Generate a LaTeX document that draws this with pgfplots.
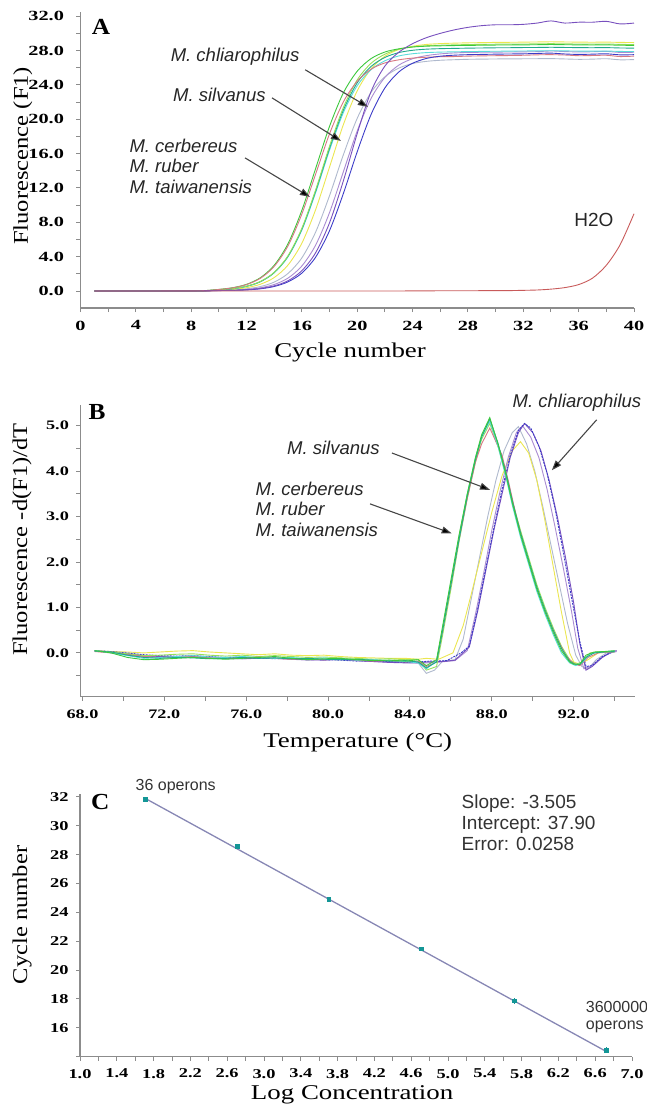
\documentclass[border=0pt]{standalone}
\usepackage{fontspec}
\setmainfont{Liberation Serif}
\newfontfamily\tickA[FakeStretch=1.45]{Liberation Serif}
\newfontfamily\tickB[FakeStretch=1.40]{Liberation Serif}
\newfontfamily\tickC[FakeStretch=1.36]{Liberation Serif}
\newfontfamily\labx[FakeStretch=1.28]{Liberation Serif}
\newfontfamily\laby[FakeStretch=1.17]{Liberation Serif}
\newfontfamily\panelf[FakeStretch=1.1]{Liberation Serif}
\newfontfamily\annot{Liberation Sans}
\usepackage{pgfplots}
\pgfplotsset{compat=1.18}
\usepackage{pgfplotstable}
\usetikzlibrary{arrows.meta}

\definecolor{axgray}{RGB}{140,140,140}
\definecolor{cpink}{RGB}{215,120,130}
\definecolor{cgreen}{RGB}{60,200,60}
\definecolor{clgreen}{RGB}{150,225,90}
\definecolor{cteal}{RGB}{30,170,140}
\definecolor{ccyan}{RGB}{90,220,220}
\definecolor{cyellow}{RGB}{235,230,80}
\definecolor{cgray}{RGB}{175,185,205}
\definecolor{clav}{RGB}{170,140,210}
\definecolor{cblue}{RGB}{60,60,200}
\definecolor{cpurple}{RGB}{120,80,190}
\definecolor{ch2o}{RGB}{200,90,90}
\definecolor{arrowc}{RGB}{70,70,70}
\definecolor{ptcol}{RGB}{20,150,150}
\definecolor{fitcol}{RGB}{135,135,180}

% amplification curves, panel A
\pgfplotstableread{
c  pink  green lgreen teal  cyan  yellow gray  lav   blue  purple h2o
1  0.00  0.00  0.00   0.00  0.00  0.00   0.00  0.00  0.00  0.00   0.00
2  0.00  0.00  0.00   0.00  0.00  0.00   0.00  0.00  0.00  0.00   0.00
3  0.00  0.00  0.00   0.00  0.00  0.00   0.00  0.00  0.00  0.00   0.00
4  0.00  0.00  0.00   0.00  0.00  0.00   0.00  0.00  0.00  0.00   0.00
5  0.00  0.00  0.00   0.00  0.00  0.00   0.00  0.00  0.00  0.00   0.00
6  0.01  0.01  0.00   0.00  0.00  0.00   0.00  0.00  0.00  0.00   0.00
7  0.01  0.01  0.01   0.01  0.01  0.00   0.00  0.00  0.00  0.00   0.00
8  0.02  0.02  0.01   0.01  0.01  0.01   0.01  0.01  0.00  0.00   0.00
9  0.05  0.05  0.03   0.03  0.04  0.02   0.02  0.02  0.01  0.01   0.00
10 0.18  0.19  0.14   0.13  0.13  0.10   0.07  0.08  0.05  0.06   0.00
11 0.37  0.39  0.28   0.27  0.27  0.19   0.13  0.10  0.08  0.08   0.00
12 0.75  0.78  0.56   0.55  0.54  0.39   0.26  0.19  0.13  0.15   0.00
13 1.48  1.55  1.11   1.09  1.08  0.79   0.52  0.38  0.26  0.30   0.00
14 2.87  3.00  2.18   2.15  2.12  1.57   1.04  0.76  0.53  0.60   0.00
15 5.27  5.52  4.12   4.06  4.00  3.03   2.05  1.51  1.07  1.20   0.00
16 8.98  9.41  7.32   7.22  7.11  5.58   3.87  2.92  2.09  2.37   0.00
17 13.65 14.30 11.82  11.66 11.49 9.51   6.89  5.37  3.96  4.48   0.00
18 18.32 19.19 16.88  16.64 16.41 14.45  11.12 9.15  7.04  7.96   0.00
19 22.03 23.08 21.38  21.08 20.79 19.39  15.88 13.90 11.37 12.85  0.00
20 24.43 25.60 24.59  24.25 23.91 23.32  20.12 18.65 16.23 18.35  0.00
21 25.83 27.06 26.52  26.15 25.78 25.87  23.14 22.43 20.56 23.24  0.00
22 26.56 27.83 27.58  27.20 26.81 27.34  24.95 24.88 23.65 26.20  0.00
23 26.92 28.20 28.15  27.76 27.37 28.12  25.95 26.30 25.50 27.80  0.00
24 27.12 28.41 28.43  28.03 27.63 28.50  26.49 27.05 26.52 28.80  0.02
25 27.22 28.51 28.56  28.16 27.76 28.71  26.74 27.41 27.08 29.50  0.02
26 27.28 28.55 28.62  28.22 27.82 28.81  26.87 27.61 27.34 30.00  0.03
27 27.30 28.58 28.66  28.25 27.85 28.86  26.93 27.72 27.46 30.40  0.03
28 27.35 28.60 28.70  28.28 27.88 28.90  26.98 27.78 27.52 30.70  0.03
29 27.38 28.62 28.72  28.30 27.90 28.92  27.00 27.80 27.55 30.90  0.04
30 27.40 28.64 28.74  28.32 27.92 28.95  27.02 27.82 27.58 31.00  0.04
31 27.42 28.65 28.75  28.33 27.93 28.96  27.03 27.83 27.60 31.00  0.05
32 27.45 28.66 28.76  28.35 27.95 28.98  27.04 27.85 27.62 31.05  0.08
33 27.50 28.68 28.78  28.36 27.96 29.00  27.05 27.87 27.66 31.20  0.12
34 27.52 28.70 28.80  28.38 27.98 29.02  27.06 27.95 27.70 31.45  0.22
35 27.48 28.68 28.78  28.36 27.96 29.00  27.02 27.88 27.60 31.20  0.40
36 27.40 28.66 28.76  28.34 27.94 28.98  26.98 27.84 27.55 31.30  0.75
37 27.42 28.65 28.75  28.33 27.93 28.97  27.00 27.86 27.58 31.30  1.50
38 27.45 28.66 28.76  28.34 27.94 28.98  27.05 27.90 27.62 31.40  3.00
39 27.30 28.62 28.72  28.30 27.90 28.95  26.92 27.78 27.50 31.10  5.40
40 27.35 28.60 28.70  28.28 27.88 28.93  26.95 27.80 27.52 31.20  9.00
}\qpcr

\pgfplotsset{
  panel/.style={
    scale only axis, clip=false,
    axis lines=left,
    axis line style={-, draw=axgray, line width=1.6pt},
    tick align=outside,
    major tick length=4pt, minor tick length=4pt,
    every tick/.style={axgray, line width=1pt},
    /pgf/number format/assume math mode=true,
    xlabel style={anchor=center, font=\labx\fontsize{21}{24}\selectfont},
    ylabel style={anchor=center, font=\laby\fontsize{21}{24}\selectfont},
  },
  curve/.style={line width=0.9pt, mark=none},
}
\tikzset{
  spec/.style={font=\annot\itshape\fontsize{18.5}{20.5}\selectfont, text=black!85},
  pointer/.style={draw=arrowc, line width=1.1pt, -{Triangle[length=10pt,width=7pt,fill=black]}},
}

\begin{document}
\begin{tikzpicture}[x=1pt,y=1pt]
\useasboundingbox (0,0) rectangle (646,-1110);

% ---------------- A ----------------
\begin{axis}[panel,
  at={(80.5pt,-308.2pt)}, anchor=south west,
  width=553.5pt, height=296.3pt,
  xmin=0, xmax=40, ymin=-2, ymax=32.5,
  xtick={0,4,...,40}, minor xtick={2,6,...,38},
  ytick={0,4,...,32}, minor ytick={2,6,...,30},
  ticklabel style={font=\tickA\bfseries\fontsize{14}{16}\selectfont},
  xticklabel style={/tikz/yshift=-5pt},
  yticklabel style={/tikz/xshift=-9pt, /pgf/number format/.cd, fixed, fixed zerofill, precision=1},
  xlabel={Cycle number}, ylabel={Fluorescence (F1)},
  xlabel style={at={(axis description cs:0.487,-0.148)}},
  ylabel style={at={(axis description cs:-0.104,0.514)}},
]
\addplot[curve, smooth, cgray]   table[x=c, y=gray]   {\qpcr};
\addplot[curve, smooth, clav]    table[x=c, y=lav]    {\qpcr};
\addplot[curve, smooth, cyellow] table[x=c, y=yellow] {\qpcr};
\addplot[curve, smooth, ccyan]   table[x=c, y=cyan]   {\qpcr};
\addplot[curve, smooth, cteal]   table[x=c, y=teal]   {\qpcr};
\addplot[curve, smooth, clgreen] table[x=c, y=lgreen] {\qpcr};
\addplot[curve, smooth, cgreen]  table[x=c, y=green]  {\qpcr};
\addplot[curve, smooth, cpink]   table[x=c, y=pink]   {\qpcr};
\addplot[curve, smooth, cblue]   table[x=c, y=blue]   {\qpcr};
\addplot[curve, smooth, cpurple] table[x=c, y=purple] {\qpcr};
\addplot[curve, smooth, ch2o]    table[x=c, y=h2o]    {\qpcr};

\node[font=\panelf\bfseries\fontsize{23}{25}\selectfont] at (axis cs:1.48,30.8) {A};
\node[spec] at (axis cs:11.17,27.25) {M. chliarophilus};
\node[spec] at (axis cs:10.04,22.84) {M. silvanus};
\node[spec, anchor=west, align=left] at (axis cs:3.29,14.57)
  {M. cerbereus\\M. ruber\\M. taiwanensis};
\node[font=\annot\fontsize{19}{21}\selectfont, text=black!85] at (axis cs:37.1,8.27) {H2O};
\draw[pointer] (axis cs:16.24,25.76) -- (axis cs:20.77,21.44);
\draw[pointer] (axis cs:13.84,22.49) -- (axis cs:18.82,17.48);
\draw[pointer] (axis cs:11.89,15.50) -- (axis cs:16.58,10.96);
\end{axis}

% ---------------- B ----------------
\begin{axis}[panel,
  at={(80.4pt,-696.5pt)}, anchor=south west,
  width=554.7pt, height=291.2pt,
  xmin=67.9, xmax=95, ymin=-0.96, ymax=5.45,
  xtick={68,72,...,92}, minor xtick={70,74,...,94},
  ytick={0,1,...,5}, minor ytick={-0.5,0.5,...,4.5},
  ticklabel style={font=\tickB\bfseries\fontsize{13}{15}\selectfont},
  xticklabel style={/tikz/yshift=-6pt, /pgf/number format/.cd, fixed, fixed zerofill, precision=1},
  yticklabel style={/tikz/xshift=-4pt, /pgf/number format/.cd, fixed, fixed zerofill, precision=1},
  xlabel={Temperature (\textdegree C)}, ylabel={Fluorescence -d(F1)/dT},
  xlabel style={at={(axis description cs:0.50,-0.157)}},
  ylabel style={at={(axis description cs:-0.105,0.539)}},
]
% second peak group
\addplot[curve, cgray] coordinates {(68.6,0.04)(69.4,0.01)(70.2,-0.05)(71.0,-0.09)(71.8,-0.11)(72.6,-0.10)(73.4,-0.09)(74.2,-0.11)(75.0,-0.13)(75.8,-0.12)(76.6,-0.10)(77.4,-0.12)(78.2,-0.14)(79.0,-0.13)(79.8,-0.15)(80.6,-0.14)(81.4,-0.16)(82.2,-0.18)(83.0,-0.19)(83.8,-0.21)(84.4,-0.22)(84.8,-0.45)(85.2,-0.38)(85.6,-0.18)(86.2,-0.15)(86.6,0.3)(87.0,1.2)(87.4,2.1)(87.8,3.0)(88.2,3.8)(88.6,4.45)(89.0,4.85)(89.3,4.98)(89.7,4.6)(90.1,4.0)(90.5,3.2)(90.9,2.35)(91.3,1.5)(91.7,0.65)(92.1,-0.05)(92.4,-0.3)(92.7,-0.35)(93.1,-0.15)(93.6,0.0)(94.0,0.02)};
\addplot[curve, cyellow] coordinates {(68.6,0.05)(69.4,0.03)(70.2,0.02)(71.0,0.0)(71.8,0.02)(72.6,0.04)(73.4,0.05)(74.2,0.02)(75.0,0.0)(75.8,-0.02)(76.6,-0.04)(77.4,-0.02)(78.2,-0.05)(79.0,-0.06)(79.8,-0.05)(80.6,-0.08)(81.4,-0.10)(82.2,-0.11)(83.0,-0.12)(83.8,-0.12)(84.4,-0.14)(84.8,-0.12)(85.4,-0.14)(86.1,0.0)(86.6,0.6)(87.0,1.3)(87.5,2.2)(88.0,3.1)(88.5,3.9)(89.0,4.45)(89.4,4.65)(89.8,4.4)(90.2,3.8)(90.6,2.9)(91.0,1.9)(91.4,0.9)(91.8,0.0)(92.0,-0.2)(92.3,-0.25)(92.7,-0.15)(93.2,0.0)(93.8,0.02)};
\addplot[curve, clav] coordinates {(68.6,0.05)(69.4,0.02)(70.2,-0.03)(71.0,-0.07)(71.8,-0.09)(72.6,-0.08)(73.4,-0.10)(74.2,-0.12)(75.0,-0.11)(75.8,-0.13)(76.6,-0.12)(77.4,-0.11)(78.2,-0.14)(79.0,-0.16)(79.8,-0.14)(80.6,-0.15)(81.4,-0.17)(82.2,-0.19)(83.0,-0.20)(83.8,-0.19)(84.4,-0.21)(84.8,-0.22)(85.5,-0.20)(86.2,-0.17)(86.8,0.05)(87.2,0.85)(87.6,1.75)(88.0,2.7)(88.4,3.55)(88.8,4.3)(89.2,4.85)(89.5,5.0)(89.9,4.75)(90.3,4.3)(90.7,3.6)(91.1,2.75)(91.5,1.85)(91.9,0.9)(92.2,0.1)(92.5,-0.35)(92.8,-0.3)(93.3,-0.12)(93.8,0.0)(94.1,0.03)};
\addplot[curve, cpurple] coordinates {(68.6,0.04)(69.4,0.01)(70.2,-0.02)(71.0,-0.06)(71.8,-0.08)(72.6,-0.09)(73.4,-0.08)(74.2,-0.10)(75.0,-0.12)(75.8,-0.13)(76.6,-0.11)(77.4,-0.12)(78.2,-0.13)(79.0,-0.15)(79.8,-0.16)(80.6,-0.14)(81.4,-0.17)(82.2,-0.19)(83.0,-0.21)(83.8,-0.22)(84.4,-0.22)(84.8,-0.20)(85.6,-0.19)(86.2,-0.16)(86.9,0.13)(87.3,0.9)(87.7,1.8)(88.1,2.7)(88.5,3.5)(88.9,4.3)(89.3,4.85)(89.6,5.05)(90.0,4.85)(90.4,4.45)(90.8,3.8)(91.2,3.0)(91.6,2.1)(92.0,1.1)(92.3,0.2)(92.6,-0.38)(92.9,-0.3)(93.4,-0.1)(93.8,0.02)(94.1,0.05)};
\addplot[curve, cblue, dash pattern=on 2pt off 1pt] coordinates {(68.6,0.05)(69.4,0.03)(70.2,0.0)(71.0,-0.04)(71.8,-0.06)(72.6,-0.07)(73.4,-0.06)(74.2,-0.08)(75.0,-0.10)(75.8,-0.09)(76.6,-0.11)(77.4,-0.13)(78.2,-0.12)(79.0,-0.14)(79.8,-0.15)(80.6,-0.16)(81.4,-0.18)(82.2,-0.17)(83.0,-0.19)(83.8,-0.21)(84.4,-0.20)(85.0,-0.18)(85.8,-0.17)(86.5,0.0)(86.9,0.15)(87.3,0.95)(87.7,1.85)(88.1,2.75)(88.5,3.6)(88.9,4.35)(89.3,4.9)(89.6,5.05)(89.9,4.95)(90.3,4.55)(90.7,3.95)(91.1,3.15)(91.5,2.2)(91.9,1.2)(92.3,0.25)(92.6,-0.3)(92.9,-0.28)(93.4,-0.08)(93.9,0.02)};
% first peak group
\addplot[curve, clgreen] coordinates {(68.6,0.05)(69.4,0.02)(70.2,-0.02)(71.0,-0.06)(71.8,-0.05)(72.6,-0.03)(73.4,-0.02)(74.2,-0.05)(75.0,-0.07)(75.8,-0.05)(76.6,-0.08)(77.4,-0.06)(78.2,-0.08)(79.0,-0.10)(79.8,-0.09)(80.6,-0.11)(81.4,-0.12)(82.2,-0.14)(83.0,-0.13)(83.8,-0.15)(84.4,-0.14)(84.8,-0.38)(85.3,-0.3)(85.6,0.4)(86.0,1.4)(86.4,2.45)(86.8,3.4)(87.2,4.2)(87.5,4.7)(87.9,5.05)(88.3,4.55)(88.7,3.9)(89.0,3.35)(89.4,2.7)(89.8,2.1)(90.2,1.5)(90.6,1.0)(91.0,0.55)(91.4,0.15)(91.8,-0.15)(92.1,-0.25)(92.4,-0.2)(92.8,0.0)(93.3,0.03)(94.0,0.02)};
\addplot[curve, cpink] coordinates {(68.6,0.03)(69.4,0.0)(70.2,-0.04)(71.0,-0.08)(71.8,-0.10)(72.6,-0.09)(73.4,-0.07)(74.2,-0.10)(75.0,-0.12)(75.8,-0.11)(76.6,-0.09)(77.4,-0.12)(78.2,-0.14)(79.0,-0.12)(79.8,-0.15)(80.6,-0.13)(81.4,-0.16)(82.2,-0.18)(83.0,-0.17)(83.8,-0.20)(84.4,-0.18)(84.8,-0.30)(85.3,-0.2)(85.6,0.5)(86.0,1.5)(86.4,2.5)(86.8,3.4)(87.2,4.2)(87.5,4.6)(87.9,4.95)(88.5,4.35)(88.8,3.8)(89.2,3.0)(89.6,2.3)(90.0,1.7)(90.4,1.15)(90.8,0.7)(91.2,0.3)(91.6,-0.05)(92.0,-0.24)(92.3,-0.28)(92.7,-0.1)(93.2,0.0)(94.0,0.03)};
\addplot[curve, ccyan] coordinates {(68.6,0.05)(69.4,0.0)(70.2,-0.06)(71.0,-0.12)(71.8,-0.10)(72.6,-0.08)(73.4,-0.06)(74.2,-0.09)(75.0,-0.10)(75.8,-0.08)(76.6,-0.10)(77.4,-0.12)(78.2,-0.10)(79.0,-0.13)(79.8,-0.11)(80.6,-0.14)(81.4,-0.16)(82.2,-0.15)(83.0,-0.17)(83.8,-0.19)(84.4,-0.22)(84.8,-0.35)(85.3,-0.18)(85.6,0.55)(86.0,1.55)(86.4,2.55)(86.8,3.5)(87.2,4.3)(87.5,4.75)(87.9,5.1)(88.3,4.55)(88.7,3.85)(89.0,3.25)(89.4,2.55)(89.8,1.95)(90.2,1.35)(90.6,0.85)(91.0,0.4)(91.4,0.0)(91.8,-0.22)(92.1,-0.28)(92.4,-0.22)(92.8,-0.02)(93.3,0.02)(94.0,0.04)};
\addplot[curve, cteal] coordinates {(68.6,0.04)(69.4,0.02)(70.2,-0.05)(71.0,-0.10)(71.8,-0.12)(72.6,-0.10)(73.4,-0.11)(74.2,-0.13)(75.0,-0.12)(75.8,-0.10)(76.6,-0.12)(77.4,-0.11)(78.2,-0.13)(79.0,-0.12)(79.8,-0.14)(80.6,-0.15)(81.4,-0.14)(82.2,-0.16)(83.0,-0.18)(83.8,-0.17)(84.4,-0.20)(84.8,-0.33)(85.3,-0.2)(85.6,0.5)(86.0,1.5)(86.4,2.5)(86.8,3.45)(87.2,4.25)(87.5,4.75)(87.9,5.15)(88.3,4.62)(88.7,3.95)(89.0,3.35)(89.4,2.65)(89.8,2.05)(90.2,1.45)(90.6,0.95)(91.0,0.5)(91.4,0.1)(91.8,-0.18)(92.0,-0.24)(92.3,-0.26)(92.6,-0.1)(93.0,0.0)(93.5,0.02)(94.0,0.03)};
\addplot[curve, cgreen] coordinates {(68.6,0.05)(69.4,0.0)(70.2,-0.10)(71.0,-0.15)(71.8,-0.14)(72.6,-0.12)(73.4,-0.10)(74.2,-0.12)(75.0,-0.14)(75.8,-0.12)(76.6,-0.10)(77.4,-0.08)(78.2,-0.12)(79.0,-0.15)(79.8,-0.13)(80.6,-0.12)(81.4,-0.15)(82.2,-0.17)(83.0,-0.16)(83.8,-0.18)(84.4,-0.15)(84.8,-0.28)(85.3,-0.15)(85.6,0.6)(86.0,1.6)(86.4,2.6)(86.8,3.5)(87.2,4.3)(87.5,4.8)(87.9,5.18)(88.3,4.6)(88.7,3.9)(89.0,3.3)(89.4,2.6)(89.8,2.0)(90.2,1.4)(90.6,0.9)(91.0,0.45)(91.4,0.05)(91.8,-0.2)(92.0,-0.25)(92.3,-0.25)(92.6,-0.05)(93.0,0.02)(93.5,0.03)(94.0,0.05)};

\node[font=\panelf\bfseries\fontsize{23}{25}\selectfont] at (axis cs:68.71,5.30) {B};
\node[spec] at (axis cs:92.16,5.50) {M. chliarophilus};
\node[spec] at (axis cs:80.26,4.52) {M. silvanus};
\node[spec, anchor=west, align=left] at (axis cs:76.29,3.165)
  {M. cerbereus\\M. ruber\\M. taiwanensis};
\draw[pointer] (axis cs:93.12,5.13) -- (axis cs:90.93,4.02);
\draw[pointer] (axis cs:83.12,4.40) -- (axis cs:87.91,3.59);
\draw[pointer] (axis cs:82.05,3.28) -- (axis cs:86.04,2.63);
\end{axis}

% ---------------- C ----------------
\begin{axis}[panel,
  at={(80pt,-1056.5pt)}, anchor=south west,
  width=552pt, height=262.4pt,
  xmin=1, xmax=7, ymin=14, ymax=32.2,
  xtick={1,1.4,1.8,2.2,2.6,3,3.4,3.8,4.2,4.6,5,5.4,5.8,6.2,6.6,7},
  minor xtick={1.2,1.6,2.0,2.4,2.8,3.2,3.6,4.0,4.4,4.8,5.2,5.6,6.0,6.4,6.8},
  ytick={16,18,...,32}, extra y ticks={14}, extra y tick labels={},
  ticklabel style={font=\tickC\bfseries\fontsize{13.5}{15}\selectfont},
  yticklabel style={/tikz/xshift=-4pt},
  xticklabel style={/tikz/yshift=-5pt, /pgf/number format/.cd, fixed, fixed zerofill, precision=1},
  xlabel={Log Concentration}, ylabel={Cycle number},
  xlabel style={at={(axis description cs:0.493,-0.147)}},
  ylabel style={at={(axis description cs:-0.105,0.539)}},
]
\addplot[fitcol, line width=1.3pt] coordinates {(1.71,31.90) (6.72,14.35)};
\addplot[only marks, mark=square*, mark size=1.7pt, color=ptcol,
  error bars/.cd, y dir=both, y explicit,
  error bar style={ptcol, line width=1.2pt}, error mark=none]
  coordinates {
  (1.71,31.85) +- (0,0.10)
  (2.71,28.58) +- (0,0.15)
  (3.70,24.90) +- (0,0.10)
  (4.71,21.48) +- (0,0.12)
  (5.72,17.87) +- (0,0.22)
  (6.72,14.45) +- (0,0.18)
};
\node[font=\panelf\bfseries\fontsize{23}{25}\selectfont] at (axis cs:1.22,31.65) {C};
\node[font=\annot\fontsize{16}{18}\selectfont, text=black!80] at (axis cs:2.04,32.7) {36 operons};
\node[font=\annot\fontsize{19}{21}\selectfont, text=black!80, anchor=west, align=left]
  at (axis cs:5.11,30.25) {Slope: -3.505\\Intercept: 37.90\\Error: 0.0258};
\node[font=\annot\fontsize{16}{17}\selectfont, text=black!80, anchor=west, align=left]
  at (axis cs:6.46,16.77) {3600000\\operons};
\end{axis}
\end{tikzpicture}
\end{document}
